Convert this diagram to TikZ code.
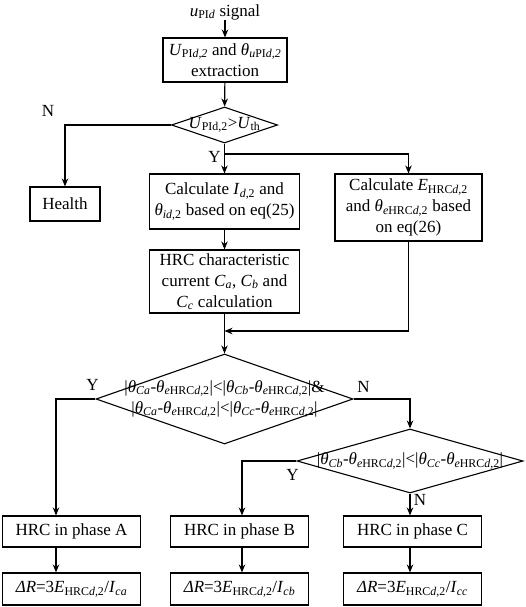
\documentclass[tikz,border=0pt]{standalone}
\usepackage{fontspec}
\setmainfont{Liberation Serif}
\usetikzlibrary{arrows.meta,shapes.geometric}
\newcommand{\sbs}[1]{\textsubscript{#1}}
\newcommand{\thHRC}{\textit{θ}\sbs{\textit{e}HRC\textit{d},2}}
\begin{document}
\begin{tikzpicture}[x=1pt,y=-1pt,line width=1.1pt,
  >={Stealth[length=8pt,width=6.5pt]},
  font=\fontsize{17}{21}\selectfont,
  box/.style={draw,inner sep=0pt,align=center},
  dia/.style={draw,diamond,inner sep=0pt},
  yn/.style={inner sep=0pt}]
  \useasboundingbox (0,0) rectangle (526,607);
  % \draw[step=10,gray,very thin] (0,0) grid (526,607);
  \node[yn] (sig) at (225,12) {\textit{u}\sbs{PI\textit{d}} signal};
  \node[box,minimum width=124pt,minimum height=44pt] (ext) at (225,60)
    {\textit{U}\sbs{PI\textit{d,2}} and \textit{θ}\sbs{\textit{u}PI\textit{d,2}}\\extraction};
  \node[dia,minimum width=106pt,minimum height=36pt,
    label={center:{\textit{U}\sbs{PId,2}>\textit{U}\sbs{th}}}] (chk) at (224.5,125) {};
  \node[box,minimum width=70pt,minimum height=34pt] (health) at (65,204) {Health};
  \node[box,minimum width=150pt,minimum height=55pt] (calc1) at (224.5,201.5)
    {Calculate \textit{I}\sbs{\textit{d},2} and\\\textit{θ}\sbs{\textit{id},2} based on eq(25)};
  \node[box,minimum width=147pt,minimum height=67pt] (calc2) at (408.5,207.5)
    {Calculate \textit{E}\sbs{HRC\textit{d},2}\\and \thHRC{} based\\on eq(26)};
  \node[box,minimum width=150pt,minimum height=63pt] (hrc) at (224.5,281.5)
    {HRC characteristic\\current \textit{C}\sbs{\textit{a}}, \textit{C}\sbs{\textit{b}} and\\\textit{C}\sbs{\textit{c}} calculation};
  \node[dia,minimum width=257pt,minimum height=90pt,
    label={[align=center]center:{|\textit{θ}\sbs{\textit{Ca}}-\thHRC|<|\textit{θ}\sbs{\textit{Cb}}-\thHRC|\&\\
      |\textit{θ}\sbs{\textit{Ca}}-\thHRC|<|\textit{θ}\sbs{\textit{Cc}}-\thHRC|}}] (dia2) at (224.5,399) {};
  \node[dia,minimum width=226pt,minimum height=64pt,
    label={center:{|\textit{θ}\sbs{\textit{Cb}}-\thHRC|<|\textit{θ}\sbs{\textit{Cc}}-\thHRC|}}] (dia3) at (410,461) {};
  \node[box,minimum width=138pt,minimum height=31pt] (phA) at (71.5,531.5) {HRC in phase A};
  \node[box,minimum width=138pt,minimum height=31pt] (phB) at (239.5,531.5) {HRC in phase B};
  \node[box,minimum width=138pt,minimum height=31pt] (phC) at (412.5,531.5) {HRC in phase C};
  \node[box,minimum width=138pt,minimum height=32pt] (rA) at (71.5,589)
    {\textit{ΔR}=3\textit{E}\sbs{HRC\textit{d},2}/\textit{I}\sbs{\textit{ca}}};
  \node[box,minimum width=138pt,minimum height=32pt] (rB) at (239.5,589)
    {\textit{ΔR}=3\textit{E}\sbs{HRC\textit{d},2}/\textit{I}\sbs{\textit{cb}}};
  \node[box,minimum width=138pt,minimum height=32pt] (rC) at (412.5,589)
    {\textit{ΔR}=3\textit{E}\sbs{HRC\textit{d},2}/\textit{I}\sbs{\textit{cc}}};
  \coordinate (j1) at (224.5,154);
  \coordinate (j2) at (224.5,331);
  \coordinate (ca) at (56,0);
  \coordinate (cb) at (242,0);
  \coordinate (cc) at (410,0);
  \draw[->] (sig) -- (ext);
  \draw[->] (ext) -- (chk);
  \draw[->] (chk.west) -| node[above left,xshift=-7pt,yshift=5pt] {N} (health.north);
  \draw (chk.south) -- (j1);
  \draw[->] (j1) node[left,yshift=-3pt] {Y} -- (calc1.north);
  \draw[->] (j1) -| (calc2.north);
  \draw[->] (calc1) -- (hrc);
  \draw[->] (hrc) -- (dia2);
  \draw[->] (calc2.south) |- (j2);
  \draw[->] (dia2.west) node[above,xshift=-3pt,yshift=5pt] {Y} -| (ca |- phA.north);
  \draw[->] (dia2.east) node[above right,yshift=3pt] {N} -| (dia3.north);
  \draw[->] (dia3.west) node[below,xshift=-4pt,yshift=-4pt] {Y} -| (cb |- phB.north);
  \draw[->] (dia3.south) node[below right,yshift=3pt] {N} -- (cc |- phC.north);
  \draw[->] (ca |- phA.south) -- (ca |- rA.north);
  \draw[->] (cb |- phB.south) -- (cb |- rB.north);
  \draw[->] (cc |- phC.south) -- (cc |- rC.north);
\end{tikzpicture}
\end{document}
